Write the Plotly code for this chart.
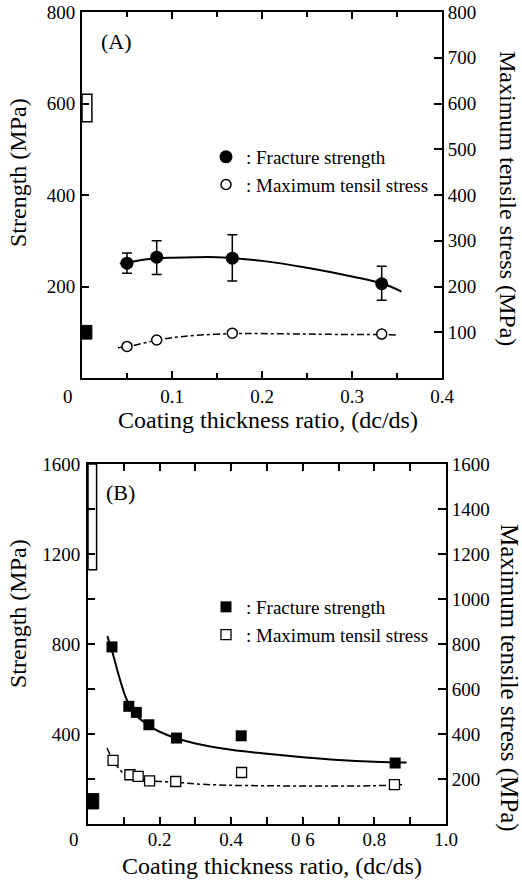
import plotly.graph_objects as go

W, H = 522, 890
FONT = "Liberation Serif"

# ---------------- Panel (A) data ----------------
a_x = [0.05, 0.083, 0.167, 0.333]
a_fracture = [251, 264, 262, 206]
a_err_plus = [22, 36, 51, 38]
a_err_minus = [22, 38, 50, 36]
a_tensile = [69, 83, 98, 96]

a_fit_x = [0.042, 0.053, 0.07, 0.085, 0.1, 0.125, 0.15, 0.167, 0.2, 0.25, 0.3, 0.333, 0.355]
a_fit_y = [250, 253, 259, 262, 263, 264, 264, 262, 256, 241, 222, 207, 189]
a_fit2_x = [0.04, 0.053, 0.07, 0.085, 0.1, 0.125, 0.167, 0.2, 0.25, 0.3, 0.333, 0.35]
a_fit2_y = [66, 69, 77, 83, 88, 93, 97, 97, 96, 95, 95, 94]

# uncoated reference values (dc/ds = 0): open = tensile, filled = fracture
a_ref_open = [560, 620]
a_ref_fill = [85, 115]
a_ref_width = 0.011

a_xticks = [0, 0.1, 0.2, 0.3, 0.4]
a_xtext = ["0\u00a0\u00a0\u00a0\u00a0\u00a0\u00a0", "0.1", "0.2", "0.3", "0.4"]
a_yticks_left = [200, 400, 600, 800]
a_yticks_right = [100, 200, 300, 400, 500, 600, 700, 800]

# ---------------- Panel (B) data ----------------
b_fr_x = [0.067, 0.114, 0.135, 0.170, 0.247, 0.428, 0.858]
b_fracture = [787, 523, 496, 441, 382, 392, 271]
b_te_x = [0.070, 0.117, 0.140, 0.172, 0.245, 0.429, 0.856]
b_tensile = [283, 219, 212, 192, 189, 229, 175]

b_fit_x = [0.054, 0.067, 0.086, 0.105, 0.12, 0.135, 0.17, 0.2, 0.247, 0.3, 0.4, 0.5, 0.6, 0.7, 0.8, 0.89]
b_fit_y = [835, 770, 660, 565, 515, 482, 437, 410, 381, 358, 330, 312, 297, 285, 277, 273]
b_fit2_x = [0.053, 0.07, 0.09, 0.105, 0.12, 0.14, 0.17, 0.2, 0.25, 0.3, 0.4, 0.5, 0.6, 0.7, 0.8, 0.88]
b_fit2_y = [338, 283, 240, 215, 205, 197, 192, 189, 185, 178, 172, 170, 169, 169, 170, 175]

b_ref_open = [1130, 1600]
b_ref_open_width = 0.024
b_ref_fill = [67, 135]
b_ref_fill_width = 0.03

b_xticks = [0, 0.2, 0.4, 0.6, 0.8, 1.0]
b_xtext = ["0\u00a0\u00a0\u00a0\u00a0\u00a0\u00a0", "0.2", "0.4", "0 6", "0.8", "1.0"]
b_yticks_left = [400, 800, 1200, 1600]
b_yticks_right = [200, 400, 600, 800, 1000, 1200, 1400, 1600]

legend_labels = [": Fracture strength", ": Maximum tensil stress"]

fig = go.Figure()

# ---- Panel A ----
fig.add_trace(go.Bar(x=[0], y=[a_ref_open[1] - a_ref_open[0]], base=[a_ref_open[0]],
                     width=[a_ref_width], offset=0, xaxis="x", yaxis="y",
                     marker=dict(color="white", line=dict(color="black", width=1.5)),
                     showlegend=False, hoverinfo="skip"))
fig.add_trace(go.Bar(x=[0], y=[a_ref_fill[1] - a_ref_fill[0]], base=[a_ref_fill[0]],
                     width=[a_ref_width], offset=0, xaxis="x", yaxis="y",
                     marker=dict(color="black", line=dict(color="black", width=1)),
                     showlegend=False, hoverinfo="skip"))
fig.add_trace(go.Scatter(x=a_fit_x, y=a_fit_y, mode="lines", xaxis="x", yaxis="y",
                         line=dict(color="black", width=2, shape="spline"),
                         showlegend=False, hoverinfo="skip"))
fig.add_trace(go.Scatter(x=a_fit2_x, y=a_fit2_y, mode="lines", xaxis="x", yaxis="y3",
                         line=dict(color="black", width=1.5, shape="spline", dash="7px,3px,3px,3px"),
                         showlegend=False, hoverinfo="skip"))
fig.add_trace(go.Scatter(x=a_x, y=a_fracture, mode="markers", xaxis="x", yaxis="y",
                         name=legend_labels[0], legend="legend",
                         marker=dict(symbol="circle", size=13, color="black"),
                         error_y=dict(type="data", array=a_err_plus, arrayminus=a_err_minus,
                                      color="black", thickness=1.5, width=5)))
fig.add_trace(go.Scatter(x=a_x, y=a_tensile, mode="markers", xaxis="x", yaxis="y3",
                         name=legend_labels[1], legend="legend",
                         marker=dict(symbol="circle", size=10, color="white",
                                     line=dict(color="black", width=1.5))))

# ---- Panel B ----
fig.add_trace(go.Bar(x=[0], y=[b_ref_open[1] - b_ref_open[0]], base=[b_ref_open[0]],
                     width=[b_ref_open_width], offset=0, xaxis="x2", yaxis="y2",
                     marker=dict(color="white", line=dict(color="black", width=1.5)),
                     showlegend=False, hoverinfo="skip"))
fig.add_trace(go.Bar(x=[0], y=[b_ref_fill[1] - b_ref_fill[0]], base=[b_ref_fill[0]],
                     width=[b_ref_fill_width], offset=0, xaxis="x2", yaxis="y2",
                     marker=dict(color="black", line=dict(color="black", width=1)),
                     showlegend=False, hoverinfo="skip"))
fig.add_trace(go.Scatter(x=b_fit_x, y=b_fit_y, mode="lines", xaxis="x2", yaxis="y2",
                         line=dict(color="black", width=2, shape="spline"),
                         showlegend=False, hoverinfo="skip"))
fig.add_trace(go.Scatter(x=b_fit2_x, y=b_fit2_y, mode="lines", xaxis="x2", yaxis="y4",
                         line=dict(color="black", width=1.5, shape="spline", dash="7px,3px,3px,3px"),
                         showlegend=False, hoverinfo="skip"))
fig.add_trace(go.Scatter(x=b_fr_x, y=b_fracture, mode="markers", xaxis="x2", yaxis="y2",
                         name=legend_labels[0], legend="legend2",
                         marker=dict(symbol="square", size=11, color="black")))
fig.add_trace(go.Scatter(x=b_te_x, y=b_tensile, mode="markers", xaxis="x2", yaxis="y4",
                         name=legend_labels[1], legend="legend2",
                         marker=dict(symbol="square", size=10, color="white",
                                     line=dict(color="black", width=1.3))))

tickfont = dict(family=FONT, size=19, color="black")
common = dict(showline=True, linecolor="black", linewidth=1.8, ticks="inside",
              tickcolor="black", tickwidth=1.5, showgrid=False, zeroline=False,
              tickfont=tickfont, fixedrange=True, automargin=False)

a_dom_x = [82 / W, 442 / W]
a_dom_y = [1 - 378 / H, 1 - 12 / H]
b_dom_x = [88 / W, 446 / W]
b_dom_y = [1 - 824 / H, 1 - 464 / H]

legend_font = dict(family=FONT, size=19, color="black")

fig.update_layout(
    template="none",
    width=W, height=H, margin=dict(l=0, r=0, t=0, b=0, pad=0),
    paper_bgcolor="white", plot_bgcolor="white", barmode="overlay",
    font=dict(family=FONT, color="black"),
    xaxis=dict(domain=a_dom_x, anchor="y", range=[0, 0.4], tickvals=a_xticks, ticktext=a_xtext,
               ticklen=7, mirror="ticks",
               minor=dict(ticks="inside", dtick=0.05, ticklen=5, tickcolor="black", tickwidth=1.5),
               **common),
    yaxis=dict(domain=a_dom_y, anchor="x", range=[0, 800], tickvals=a_yticks_left,
               ticklen=7, ticklabelstandoff=1, **common),
    yaxis3=dict(overlaying="y", anchor="x", side="right", range=[0, 800],
                tickvals=a_yticks_right, ticklen=8, ticklabelstandoff=0, **common),
    xaxis2=dict(domain=b_dom_x, anchor="y2", range=[0, 1.0], tickvals=b_xticks, ticktext=b_xtext,
                ticklen=7, mirror="ticks", ticklabelstandoff=-3,
                minor=dict(ticks="inside", dtick=0.1, ticklen=7, tickcolor="black", tickwidth=1.5),
                **common),
    yaxis2=dict(domain=b_dom_y, anchor="x2", range=[0, 1600], tickvals=b_yticks_left,
                ticklen=7, ticklabelstandoff=2,
                minor=dict(ticks="inside", dtick=200, ticklen=7, tickcolor="black", tickwidth=1.5),
                **common),
    yaxis4=dict(overlaying="y2", anchor="x2", side="right", range=[0, 1600],
                tickvals=b_yticks_right, ticklen=8, ticklabelstandoff=0, **common),
    legend=dict(x=206 / W, y=1 - 138 / H, xanchor="left", yanchor="top",
                bgcolor="rgba(0,0,0,0)", font=legend_font, borderwidth=0,
                itemsizing="trace", tracegroupgap=0),
    legend2=dict(x=206 / W, y=1 - 588 / H, xanchor="left", yanchor="top",
                 bgcolor="rgba(0,0,0,0)", font=legend_font, borderwidth=0,
                 itemsizing="trace", tracegroupgap=0),
)

def ann(text, x, y, size, angle=0):
    fig.add_annotation(text=text, x=x / W, y=1 - y / H, xref="paper", yref="paper",
                       showarrow=False, textangle=angle,
                       font=dict(family=FONT, size=size, color="black"),
                       xanchor="center", yanchor="middle")

ann("(A)", 116, 41, 22)
ann("(B)", 120, 492, 22)
ann("Strength (MPa)", 18, 173, 24, -90)
ann("Maximum tensile stress (MPa)", 508, 198, 24, 90)
ann("Coating thickness ratio, (dc/ds)", 268, 420, 24)
ann("Strength (MPa)", 18, 614, 24, -90)
ann("Maximum tensile stress (MPa)", 509, 678, 25, 90)
ann("Coating thickness ratio, (dc/ds)", 272, 866, 24)

# remove the browser's default 8px body margin so the figure sits at the page origin
fig.write_html("out.html", config={"displayModeBar": False},
               post_script="document.body.style.margin='0';")
